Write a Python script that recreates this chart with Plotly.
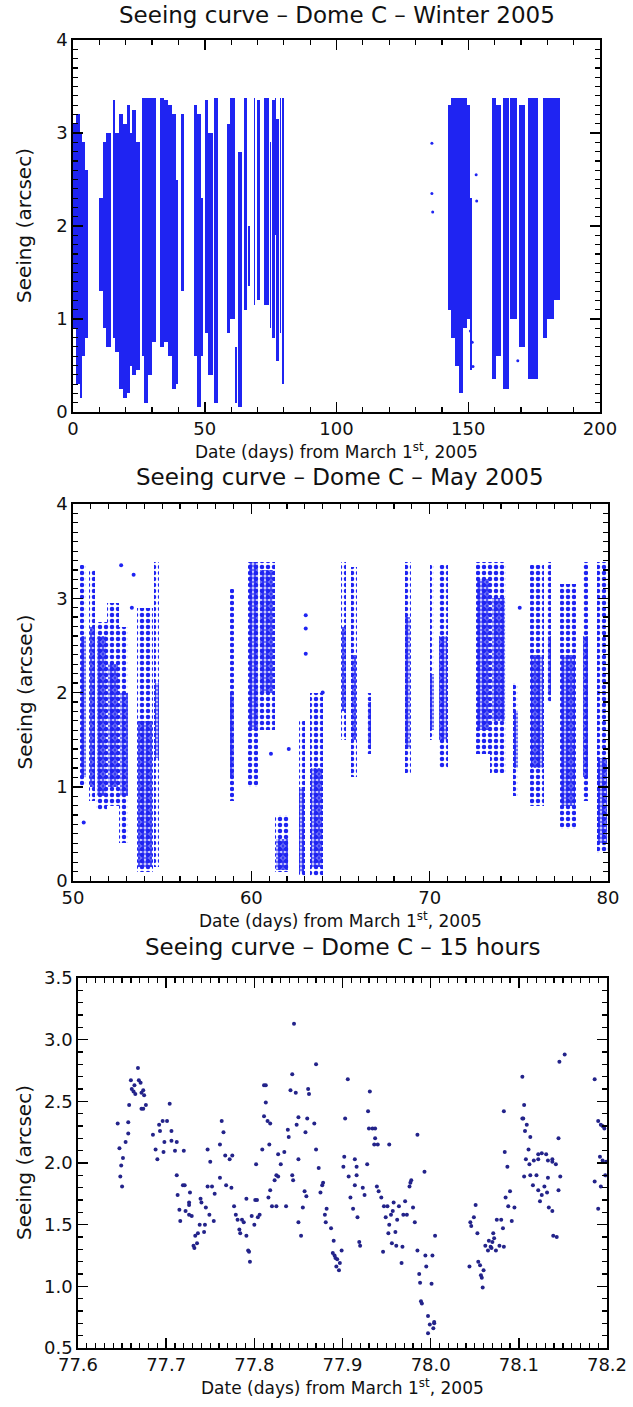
import plotly.graph_objects as go

# ---------------- Panel 1 : Winter 2005 (dense observation columns) ----------------
w_start = [0.0, 1.0, 2.5, 3.5, 4.5, 10.0, 11.5, 12.5, 15.0, 16.0, 17.5, 19.0, 20.5, 21.5, 22.5, 24.0,
           26.0, 27.0, 28.5, 30.0, 33.0, 34.5, 36.0, 37.5, 39.0, 41.0, 46.0, 47.0, 48.5,
           50.0, 51.3, 53.6, 58.5, 59.5, 61.3, 62.6, 65.0, 66.3, 68.5, 70.0, 72.5, 74.6, 75.5,
           76.5, 77.2, 78.5, 79.3,
           142.5, 143.5, 145.0, 146.5, 148.0, 149.5, 150.5, 159.0, 160.5, 163.0, 166.0, 169.4,
           172.5, 178.5, 180.0, 182.5]
w_end = [1.0, 2.5, 3.5, 4.5, 5.7, 11.5, 12.5, 14.5, 16.0, 17.5, 19.0, 20.5, 21.5, 22.5, 24.0, 25.5,
         27.0, 28.5, 30.0, 31.5, 34.5, 36.0, 37.5, 39.0, 40.0, 42.0, 47.0, 48.5, 49.5,
         51.3, 53.1, 55.0, 59.5, 61.3, 62.1, 64.0, 66.0, 67.0, 69.0, 71.0, 74.3, 75.2, 76.5,
         77.0, 78.3, 79.0, 80.2,
         143.5, 145.0, 146.5, 148.0, 149.5, 150.5, 151.5, 160.5, 162.5, 165.5, 168.6, 171.7,
         176.3, 180.0, 182.5, 184.7]
w_low = [0.9, 0.3, 0.15, 0.6, 0.8, 1.3, 0.9, 0.7, 0.8, 0.65, 0.25, 0.15, 0.2, 0.5, 0.4, 0.45,
         0.6, 0.1, 0.4, 0.75, 0.7, 0.75, 0.6, 0.25, 0.3, 1.3, 0.6, 0.05, 0.6,
         0.85, 0.4, 0.1, 0.85, 1.0, 0.1, 0.05, 1.1, 1.35, 1.15, 1.2, 1.15, 0.9, 0.8,
         1.9, 0.55, 0.85, 0.3,
         1.1, 0.8, 0.5, 0.2, 0.9, 1.0, 0.45, 0.35, 0.6, 0.25, 1.0, 0.7,
         0.35, 0.8, 1.0, 1.2]
w_high = [3.1, 3.2, 3.0, 2.9, 2.6, 2.3, 2.9, 3.0, 3.35, 3.0, 3.2, 3.1, 3.3, 3.0, 3.25, 2.9,
          3.38, 3.38, 3.38, 3.38, 3.38, 3.35, 3.3, 3.2, 2.5, 3.2, 3.3, 3.2, 2.3,
          3.35, 3.0, 3.38, 3.1, 3.38, 0.7, 2.8, 3.38, 2.0, 3.38, 3.35, 3.38, 2.9, 3.35,
          3.38, 3.15, 3.38, 3.38,
          3.3, 3.38, 3.38, 3.38, 3.38, 3.3, 2.3, 3.38, 3.3, 3.38, 3.38, 3.3,
          3.38, 3.38, 3.38, 3.38]
w_pt_day = [136.2, 136.2, 136.5, 150.8, 151.5, 151.8, 153.0, 153.2, 168.8]
w_pt_val = [2.89, 2.35, 2.15, 0.87, 0.75, 0.49, 2.55, 2.27, 0.55]

# ---------------- Panel 2 : May 2005 ----------------
m_start = [50.4, 50.9, 51.3, 51.9, 52.6, 53.6, 54.55, 58.8, 59.8, 60.4, 61.3, 62.65, 63.3, 65.05,
           65.6, 66.5, 68.6, 70.0, 70.5, 72.6, 73.4, 74.7, 75.6, 76.6, 77.3, 78.6, 79.4]
m_end = [50.75, 51.25, 51.9, 52.6, 53.1, 54.5, 54.85, 59.05, 60.4, 61.3, 62.1, 63.0, 64.0, 65.3,
         65.9, 66.7, 68.95, 70.25, 71.0, 73.4, 74.3, 74.95, 76.4, 76.8, 78.2, 78.9, 80.0]
m_low = [1.0, 0.85, 0.75, 0.8, 0.4, 0.1, 0.15, 0.85, 1.0, 1.6, 0.1, 0.05, 0.05, 1.5,
         1.1, 1.35, 1.15, 1.5, 1.2, 1.35, 1.15, 0.9, 0.8, 1.9, 0.55, 0.85, 0.3]
m_high = [3.35, 3.3, 2.75, 2.95, 2.7, 2.9, 3.38, 3.1, 3.38, 3.38, 0.7, 1.7, 2.0, 3.38,
          3.33, 2.0, 3.38, 3.35, 3.35, 3.38, 3.38, 2.1, 3.35, 3.38, 3.15, 3.38, 3.38]
m_core_low = [1.1, 1.0, 0.9, 1.0, 0.9, 0.15, 1.3, 1.1, 1.6, 2.0, 0.12, 0.1, 0.15, 1.8,
              1.5, 1.4, 1.4, 1.6, 1.5, 1.6, 1.7, 1.2, 1.2, 2.0, 0.8, 1.1, 0.4]
m_core_high = [2.6, 2.7, 2.6, 2.3, 2.0, 1.7, 2.1, 2.0, 3.38, 3.3, 0.45, 1.0, 1.2, 2.7,
               2.4, 1.9, 2.8, 2.2, 2.6, 3.2, 3.0, 1.8, 2.4, 2.6, 2.4, 2.6, 1.3]
m_pt_day = [52.7, 53.4, 53.3, 61.1, 62.1, 63.05, 63.05, 63.05, 75.05, 50.6, 64.0]
m_pt_val = [3.35, 3.25, 2.9, 1.35, 1.4, 2.82, 2.68, 2.41, 2.9, 0.62, 2.0]

# ---------------- Panel 3 : 15 hours ----------------
h_day = [77.645, 77.647, 77.651, 77.649, 77.654, 77.657, 77.657, 77.658, 77.660, 77.661, 77.663,
         77.664, 77.665, 77.668, 77.669, 77.671, 77.672, 77.674, 77.675, 77.672, 77.674, 77.677,
         77.685, 77.688, 77.690, 77.692, 77.693, 77.696, 77.697, 77.698, 77.701, 77.704, 77.706,
         77.706, 77.710, 77.712, 77.720, 77.747, 77.750, 77.761, 77.763, 77.765, 77.767, 77.772,
         77.775, 77.802, 77.809, 77.811, 77.813, 77.813, 77.811, 77.815, 77.817, 77.818, 77.830,
         77.827, 77.834, 77.838, 77.839, 77.843, 77.841, 77.845, 77.847, 77.848, 77.850, 77.850,
         77.858, 77.860, 77.861, 77.862, 77.868, 77.870, 77.870, 77.873, 77.903, 77.906, 77.902,
         77.901, 77.914, 77.916, 77.928, 77.929, 77.931, 77.930, 77.934, 77.937, 77.937, 77.936,
         77.940, 77.953, 77.985, 78.083, 78.084, 78.087, 78.104, 78.106, 78.105, 78.107, 78.109,
         78.104, 78.113, 78.111, 78.108, 78.112, 78.117, 78.122, 78.122, 78.126, 78.131, 78.133,
         78.138, 78.138, 78.142, 78.145, 78.146, 78.152, 78.186, 78.190, 78.193, 78.195, 78.197,
         78.192, 78.195, 78.199,
         77.648, 77.650, 77.712, 77.713, 77.715, 77.716, 77.719, 77.721, 77.722, 77.726, 77.726,
         77.727, 77.726, 77.729, 77.731, 77.732, 77.733, 77.735, 77.736, 77.738, 77.739, 77.740,
         77.743, 77.744, 77.745, 77.747, 77.749, 77.752, 77.754, 77.755, 77.761, 77.768, 77.774,
         77.777, 77.779, 77.781, 77.783, 77.784, 77.786, 77.788, 77.791, 77.791, 77.793, 77.794,
         77.795, 77.797, 77.800, 77.801, 77.803, 77.804, 77.806, 77.816, 77.818, 77.820, 77.823,
         77.825, 77.836, 77.825, 77.827, 77.843, 77.844, 77.850, 77.853, 77.855, 77.857, 77.859,
         77.875, 77.877, 77.878, 77.880, 77.881, 77.882, 77.887, 77.890, 77.889, 77.891, 77.892,
         77.893, 77.894, 77.896, 77.897, 77.899, 77.907, 77.909, 77.912, 77.914, 77.916, 77.917,
         77.919, 77.920, 77.923, 77.925, 77.939, 77.941, 77.944, 77.946, 77.947, 77.949, 77.951,
         77.952, 77.953, 77.955, 77.956, 77.957, 77.958, 77.960, 77.961, 77.962, 77.964, 77.967,
         77.968, 77.969, 77.971, 77.973, 77.976, 77.977, 77.978, 77.980, 77.982, 77.985, 77.987,
         77.988, 77.989, 77.990, 77.993, 77.994, 77.995, 77.997, 77.997, 77.999, 78.001, 78.002,
         78.003, 78.004, 78.004, 78.005, 78.044, 78.045, 78.046, 78.049, 78.051, 78.053, 78.054,
         78.056, 78.057, 78.058, 78.059, 78.060, 78.062, 78.065, 78.066, 78.068, 78.069, 78.070,
         78.071, 78.072, 78.074, 78.075, 78.078, 78.080, 78.082, 78.083, 78.085, 78.088, 78.090,
         78.092, 78.095, 78.106, 78.113, 78.116, 78.120, 78.122, 78.124, 78.126, 78.129, 78.132,
         78.133, 78.134, 78.138, 78.139, 78.143, 78.145, 78.147, 78.186, 78.190, 78.193, 78.198]
h_val = [2.32, 2.12, 2.04, 1.98, 2.17, 2.24, 2.33, 2.47, 2.67, 2.60, 2.58, 2.63, 2.56, 2.77, 2.67,
         2.65, 2.57, 2.59, 2.55, 2.44, 2.44, 2.47, 2.23, 2.11, 2.03, 2.31, 2.26, 2.34, 2.09, 2.17,
         2.34, 2.48, 2.26, 2.18, 2.10, 2.17, 2.10, 2.11, 2.01, 2.15, 2.34, 2.25, 2.06, 2.03, 2.06,
         1.99, 2.11, 2.63, 2.63, 2.49, 2.38, 2.34, 2.15, 2.32, 1.99, 2.07, 2.09, 2.27, 2.21, 2.72,
         2.59, 3.13, 2.57, 2.31, 2.03, 2.37, 2.25, 2.36, 2.60, 2.56, 2.32, 2.11, 2.80, 1.96, 2.36,
         2.68, 2.05, 1.97, 2.03, 1.97, 1.99, 2.42, 2.58, 2.28, 2.28, 2.28, 2.20, 2.15, 2.15, 2.15,
         2.23, 2.42, 2.09, 1.97, 2.70, 2.47, 2.36, 2.26, 2.31, 2.36, 2.21, 2.11, 2.03, 1.99, 2.02,
         2.03, 2.07, 2.08, 2.07, 2.02, 2.03, 2.01, 1.99, 2.20, 2.82, 2.88, 2.68, 2.34, 2.31, 2.30,
         2.28, 2.05, 2.02, 2.01,
         1.89, 1.81, 1.90, 1.74, 1.62, 1.53, 1.82, 1.82, 1.61, 1.68, 1.58, 1.76, 1.66, 1.57, 1.33,
         1.31, 1.41, 1.35, 1.43, 1.50, 1.71, 1.68, 1.44, 1.50, 1.64, 1.81, 1.58, 1.81, 1.53, 1.75,
         1.88, 1.82, 1.80, 1.65, 1.58, 1.54, 1.46, 1.43, 1.54, 1.52, 1.71, 1.41, 1.29, 1.28, 1.20,
         1.57, 1.50, 1.70, 1.70, 1.56, 1.58, 1.72, 1.78, 1.65, 1.86, 1.65, 1.65, 1.90, 1.89, 1.90,
         1.86, 1.52, 1.41, 1.64, 1.77, 1.73, 1.76, 1.82, 1.84, 1.58, 1.52, 1.63, 1.47, 1.37, 1.27,
         1.25, 1.23, 1.16, 1.22, 1.13, 1.19, 1.29, 1.89, 1.72, 1.63, 1.82, 1.90, 1.56, 1.36, 1.33,
         1.80, 1.74, 1.81, 1.77, 1.72, 1.28, 1.65, 1.56, 1.65, 1.43, 1.50, 1.58, 1.35, 1.61, 1.68,
         1.44, 1.33, 1.54, 1.65, 1.19, 1.32, 1.58, 1.69, 1.58, 1.81, 1.84, 1.86, 1.64, 1.52, 1.29,
         1.10, 1.03, 0.88, 0.86, 1.93, 1.25, 1.16, 0.62, 0.76, 0.69, 1.02, 1.25, 0.66, 0.70, 0.71,
         1.41, 1.16, 1.52, 1.49, 1.56, 1.66, 1.43, 1.20, 1.17, 1.09, 1.07, 0.99, 1.13, 1.33, 1.29,
         1.37, 1.32, 1.31, 1.36, 1.43, 1.39, 1.29, 1.54, 1.33, 1.54, 1.47, 1.32, 1.72, 1.65, 1.77,
         1.53, 1.64, 1.89, 1.90, 1.82, 1.90, 1.78, 1.69, 1.74, 1.81, 1.76, 1.88, 1.64, 1.61, 1.41,
         1.40, 1.78, 1.89, 1.85, 1.63, 1.81, 1.90, 1.72]

# ---------------- figure ----------------
W, H = 633, 1407
BLUE = "#1f24f2"
NAVY = "#23238a"


def px_x(p):
    return p / W


def px_y(p):
    return 1 - p / H


fig = go.Figure()

# panel 1
fig.add_trace(go.Bar(
    x=[(a + b) / 2 for a, b in zip(w_start, w_end)],
    y=[h - l for l, h in zip(w_low, w_high)],
    base=w_low,
    width=[b - a for a, b in zip(w_start, w_end)],
    marker=dict(color=BLUE, line=dict(width=0)),
    xaxis="x", yaxis="y", showlegend=False))
fig.add_trace(go.Scatter(x=w_pt_day, y=w_pt_val, mode="markers",
                         marker=dict(color=BLUE, size=3), xaxis="x", yaxis="y", showlegend=False))

# panel 2 : sparse extent drawn as dotted fill, dense core denser dots
fig.add_trace(go.Bar(
    x=[(a + b) / 2 for a, b in zip(m_start, m_end)],
    y=[h - l for l, h in zip(m_low, m_high)],
    base=m_low,
    width=[b - a for a, b in zip(m_start, m_end)],
    marker=dict(color="rgba(0,0,0,0)", line=dict(width=0),
                pattern=dict(shape=".", fgcolor=BLUE, fgopacity=1, bgcolor="rgba(0,0,0,0)",
                             size=6, solidity=0.45, fillmode="overlay")),
    xaxis="x2", yaxis="y2", showlegend=False))
fig.add_trace(go.Bar(
    x=[(a + b) / 2 for a, b in zip(m_start, m_end)],
    y=[h - l for l, h in zip(m_core_low, m_core_high)],
    base=m_core_low,
    width=[(b - a) * 0.85 for a, b in zip(m_start, m_end)],
    marker=dict(color=BLUE, line=dict(width=0),
                pattern=dict(shape=".", fgcolor=BLUE, fgopacity=1, bgcolor="rgba(0,0,0,0)",
                             size=4, solidity=0.7, fillmode="overlay")),
    opacity=0.9,
    xaxis="x2", yaxis="y2", showlegend=False))
fig.add_trace(go.Scatter(x=m_pt_day, y=m_pt_val, mode="markers",
                         marker=dict(color=BLUE, size=4), xaxis="x2", yaxis="y2", showlegend=False))

# panel 3
fig.add_trace(go.Scatter(x=h_day, y=h_val, mode="markers",
                         marker=dict(color=NAVY, size=4), xaxis="x3", yaxis="y3", showlegend=False))

FONT = "DejaVu Sans"
TICKFONT = dict(family=FONT, size=18, color="#111")


def axis(domain, rng, dtick, minor, anchor, fmt=None):
    d = dict(domain=domain, range=rng, anchor=anchor, dtick=dtick, tick0=rng[0],
             automargin=False,
             ticks="inside", ticklen=10, tickwidth=1.5, tickcolor="black",
             showline=True, linecolor="black", linewidth=1.8, mirror="allticks",
             showgrid=False, zeroline=False, tickfont=TICKFONT,
             minor=dict(dtick=minor, tick0=rng[0], ticks="inside", ticklen=5,
                        tickwidth=1.2, tickcolor="black", showgrid=False))
    if fmt:
        d["tickformat"] = fmt
    return d


# panel pixel frames
P1 = dict(x0=73, x1=600, y0=40, y1=412)
P2 = dict(x0=73, x1=608, y0=504, y1=881)
P3 = dict(x0=78, x1=607, y0=978, y1=1348)


def dx(P):
    return [px_x(P["x0"]), px_x(P["x1"])]


def dy(P):
    return [px_y(P["y1"]), px_y(P["y0"])]


fig.update_layout(
    width=W, height=H, margin=dict(l=0, r=0, t=0, b=0, autoexpand=False),
    paper_bgcolor="white", plot_bgcolor="white", barmode="overlay", bargap=0,
    xaxis=axis(dx(P1), [0, 200], 50, 10, "y"),
    yaxis=axis(dy(P1), [0, 4], 1, 0.1, "x"),
    xaxis2=axis(dx(P2), [50, 80], 10, 1, "y2"),
    yaxis2=axis(dy(P2), [0, 4], 1, 0.1, "x2"),
    xaxis3=axis(dx(P3), [77.6, 78.2], 0.1, 0.01, "y3", ".1f"),
    yaxis3=axis(dy(P3), [0.5, 3.5], 0.5, 0.1, "x3", ".1f"),
)

titles = ["Seeing curve \u2013 Dome C \u2013 Winter 2005",
          "Seeing curve \u2013 Dome C \u2013 May 2005",
          "Seeing curve \u2013 Dome C \u2013 15 hours"]
title_y = [15, 477, 947]
xlabel = "Date (days) from March 1<sup>st</sup>, 2005"
ylabel = "Seeing (arcsec)"
anns = []
for P, t, ty in zip([P1, P2, P3], titles, title_y):
    cx = (P["x0"] + P["x1"]) / 2
    anns.append(dict(text=t, x=px_x(cx), y=px_y(ty), xref="paper", yref="paper",
                     showarrow=False, font=dict(family=FONT, size=23, color="#111"),
                     xanchor="center", yanchor="middle"))
    anns.append(dict(text=xlabel, x=px_x(cx), y=px_y(P["y1"] + 39), xref="paper", yref="paper",
                     showarrow=False, font=dict(family=FONT, size=17, color="#111"),
                     xanchor="center", yanchor="middle"))
    anns.append(dict(text=ylabel, x=px_x(24), y=px_y((P["y0"] + P["y1"]) / 2), xref="paper",
                     yref="paper", showarrow=False, textangle=-90,
                     font=dict(family=FONT, size=20, color="#111"),
                     xanchor="center", yanchor="middle"))
fig.update_layout(annotations=anns)

# the page body has a default 8px margin; remove it so the figure fills the window exactly
fig.write_html("out.html", config={"displayModeBar": False, "staticPlot": True},
               post_script="document.body.style.margin='0px';document.body.style.overflow='hidden';")
